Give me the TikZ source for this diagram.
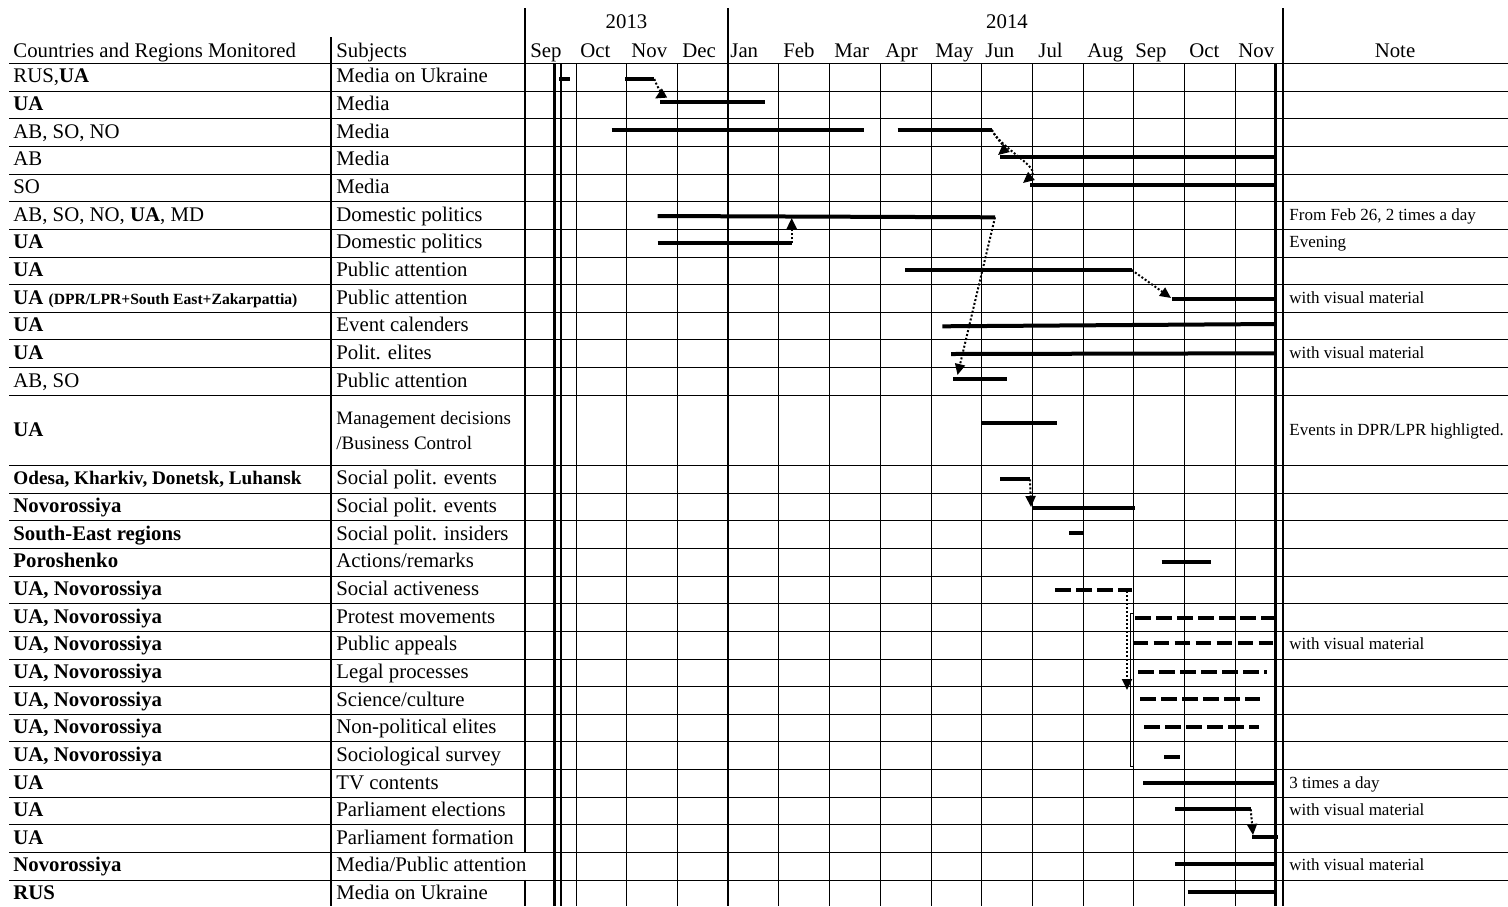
\documentclass[tikz,border=0pt]{standalone}
\usepackage{fontspec}
\setmainfont{Liberation Serif}
\usetikzlibrary{arrows.meta}

\begin{document}
\begin{tikzpicture}
      [x=.5pt,y=-.5pt
      ,grd/.style={line width=.6pt}
      ,bld/.style={line width=1pt}
      ,dbl/.style={line width=1.2pt}
      ,bar/.style={line width=2pt}
      ,dbar/.style={line width=2pt,dash pattern=on 7.8pt off 2.7pt}
      ,lnk/.style={line width=1pt,dash pattern=on 1pt off 1pt
                  ,-{Triangle[length=5.5pt,width=5pt]}}
      ,txt/.style={anchor=base west,inner sep=0,font=\fontsize{10.4}{12}\selectfont}
      ,btx/.style={anchor=base west,inner sep=0,font=\fontsize{10.4}{12}\selectfont\bfseries}
      ,nte/.style={anchor=base west,inner sep=0,font=\fontsize{8.5}{10}\selectfont}]
        \useasboundingbox (0,0) rectangle (1508,906);
        % table rules
        \foreach \i in {1,...,12}
          \draw[grd] (9,{round(63+\i*27.65)+.5}) -- (1508,{round(63+\i*27.65)+.5});
        \foreach \i in {0,...,15}
          \draw[grd] (9,{round(465+\i*27.65)+.5}) -- (1508,{round(465+\i*27.65)+.5});
        \draw[line width=.85pt] (9,63.5) -- (1508,63.5);
        \foreach \m in {1,2,3,5,6,...,14}
          \draw[grd] ({round(525+\m*50.7)+.5},63) -- ({round(525+\m*50.7)+.5},906);
        \draw[bld] (331,37) -- (331,906);
        \draw[bld] (525,8) -- (525,852.1);
        \draw[bld] (525,879.75) -- (525,906);
        \draw[dbl] (728,8) -- (728,906);
        \draw[line width=1.4pt] (554.5,63) -- (554.5,906);
        \draw[bld] (560.5,63) -- (560.5,906);
        \draw[dbl] (1275.5,63) -- (1275.5,906);
        \draw[dbl] (1283,8) -- (1283,906);
        % header
        \node[txt] (hc) at (13,57) {Countries and Regions Monitored};
        \node[txt] (hs) at (336,57) {Subjects};
        \node[txt,anchor=base] (hn) at (1395,57) {Note};
        \node[txt,anchor=base] (y13) at (626.5,28) {2013};
        \node[txt,anchor=base] (y14) at (1007,28) {2014};
        \foreach \x/\m [count=\i] in {530/Sep,580/Oct,631/Nov,682/Dec,730/Jan,783/Feb,834/Mar,
                                       885/Apr,935/May,985/Jun,1038/Jul,1087/Aug,1135/Sep,1189/Oct,1238/Nov}
          \node[txt] (mon\i) at (\x,57) {\m};
        % rows, country in plain type
        \foreach \i/\y/\a/\b in {
           1/76.8/{RUS,\textbf{UA}}/{Media on Ukraine},
           3/132.1/{AB, SO, NO}/{Media},
           4/159.8/{AB}/{Media},
           5/187.4/{SO}/{Media},
           6/215.1/{AB, SO, NO, \textbf{UA}, MD}/{Domestic politics},
           9/298.0/{\textbf{UA} {\fontsize{7.8}{9}\selectfont\bfseries (DPR/LPR+South East+Zakarpattia)}}/{Public attention},
          12/381.0/{AB, SO}/{Public attention}}{
          \node[txt] (c\i) at (13,\y+6) {\a};
          \node[txt] (s\i) at (336,\y+6) {\b};
        }
        % rows, country in bold
        \foreach \i/\y/\a/\b in {
           2/104.5/{UA}/{Media},
           7/242.7/{UA}/{Domestic politics},
           8/270.4/{UA}/{Public attention},
          10/325.7/{UA}/{Event calenders},
          11/353.3/{UA}/{Polit. elites},
          15/506.5/{Novorossiya}/{Social polit. events},
          16/534.1/{South-East regions}/{Social polit. insiders},
          17/561.8/{Poroshenko}/{Actions/remarks},
          18/589.4/{UA, Novorossiya}/{Social activeness},
          19/617.1/{UA, Novorossiya}/{Protest movements},
          20/644.7/{UA, Novorossiya}/{Public appeals},
          21/672.4/{UA, Novorossiya}/{Legal processes},
          22/700.0/{UA, Novorossiya}/{Science/culture},
          23/727.7/{UA, Novorossiya}/{Non-political elites},
          24/755.3/{UA, Novorossiya}/{Sociological survey},
          25/783.0/{UA}/{TV contents},
          26/810.6/{UA}/{Parliament elections},
          27/838.3/{UA}/{Parliament formation},
          28/865.9/{Novorossiya}/{Media/Public attention},
          29/893.6/{RUS}/{Media on Ukraine}}{
          \node[btx] (c\i) at (13,\y+6) {\a};
          \node[txt] (s\i) at (336,\y+6) {\b};
        }
        \node[btx,font=\fontsize{9.6}{12}\selectfont\bfseries] (c14) at (13,484.8) {Odesa, Kharkiv, Donetsk, Luhansk};
        \node[txt] (s14) at (336,484.8) {Social polit. events};
        \node[btx] (c13) at (13,436) {UA};
        \node[txt,anchor=west,align=left,font=\fontsize{9.5}{12.5}\selectfont]
             (s13) at (336,430) {Management decisions\\/Business Control};
        % notes
        \foreach \i/\y/\t in {6/215.1/{From Feb 26, 2 times a day},7/242.7/{Evening},
                              9/298.0/{with visual material},11/353.3/{with visual material},
                              13/430.0/{Events in DPR/LPR highligted.},20/644.7/{with visual material},
                              25/783.0/{3 times a day},26/810.6/{with visual material},
                              28/865.9/{with visual material}}
          \node[nte] (n\i) at (1289,\y+5) {\t};
        % solid bars
        \foreach \n/\xa/\ya/\xb/\yb in {1a/559/79/570/79,1b/625/79/654.3/79,2/660/101.7/765/101.7,
                                        3a/611.7/130/864.3/130,3b/897.7/130/991.7/130,
                                        4/1000/157/1275.5/157,5/1030/185/1275.5/185,
                                        6/657.7/216/995/217.3,7/657.7/243.3/791.7/243.3,
                                        8/905/270/1131.7/270,9/1171.7/299/1275.5/299,
                                        10/942.3/326.3/1275.5/324,11/951/354/1276/353.3,
                                        12/953.3/379/1007.3/379,13/981/423.3/1056.7/423.3,
                                        14/1000/479.3/1030/479.3,15/1031.7/508.3/1135/508.3,
                                        16/1069/533.3/1084.3/533.3,17/1161.7/562.3/1210.7/562.3,
                                        24/1164.3/757.3/1180/757.3,25/1143.3/783.3/1275.5/783.3,
                                        26/1175/809.3/1250.7/809.3,27/1252.3/837.3/1278/837.3,
                                        28/1175/864.3/1275.5/864.3,29/1187.7/892.3/1275.5/892.3}{
          \coordinate (s\n) at (\xa,\ya);
          \coordinate (e\n) at (\xb,\yb);
          \draw[bar] (s\n) -- (e\n);
        }
        % dashed bars
        \foreach \n/\xa/\xb/\y in {18/1055/1131.7/590,19/1135/1275.5/618.3,20/1132.7/1272.7/643.3,
                                   21/1138.3/1266.7/672.3,22/1140/1260/699,23/1144.3/1259.3/726.7}{
          \coordinate (s\n) at (\xa,\y);
          \coordinate (e\n) at (\xb,\y);
          \draw[dbar] (s\n) -- (e\n);
        }
        % links
        \coordinate (t2) at (655,98.5);
        \coordinate (t4) at (998,155);
        \coordinate (t5) at (1023,183);
        \coordinate (t9) at (1171,298);
        \coordinate (t12) at (957.5,375);
        \coordinate (t15) at (1031,507);
        \coordinate (f18) at (1127,591);
        \coordinate (t22) at (1127,690);
        \coordinate (t27) at (1253,835);
        \draw[lnk] (e1b) to[out=-70,in=30] (t2);
        \draw[lnk] (e3b) to[out=-60,in=40] (t4);
        \draw[lnk] (e3b) to[out=-60,in=40] (t5);
        \draw[lnk] (e7) -- ([yshift=-1pt]e7 |- s6);
        \draw[lnk] (e6) -- (t12);
        \draw[lnk] (e8) -- (t9);
        \draw[lnk] (e14) -- (t15);
        \draw[lnk] (f18) -- (t22);
        \draw[lnk] (e26) -- (t27);
        % bracket
        \draw[line width=.4pt] (1132.5,613.3) -- (1130,613.3) -- (1130,766.7) -- (1132.5,766.7);
\end{tikzpicture}
\end{document}
